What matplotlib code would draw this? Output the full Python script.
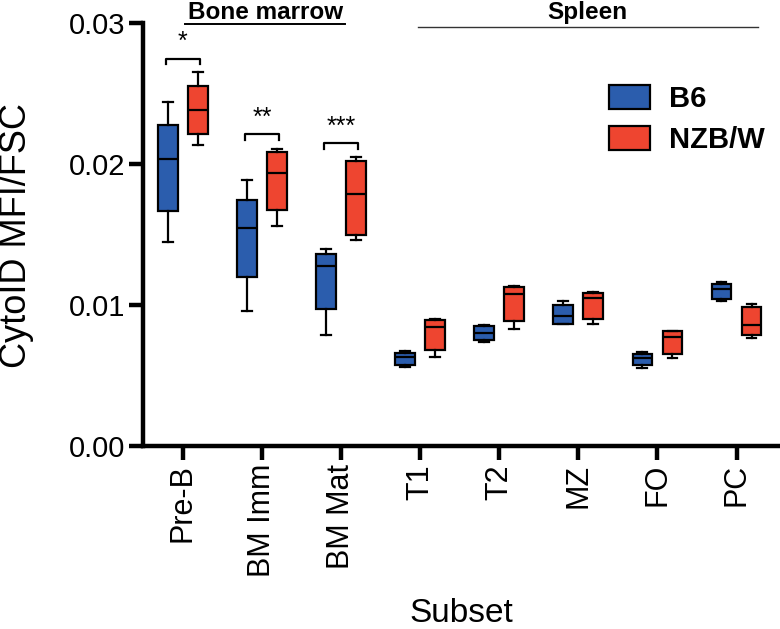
import matplotlib
matplotlib.use('Agg')
import matplotlib.pyplot as plt
from matplotlib.patches import Patch

plt.rcParams['font.family'] = ['Liberation Sans', 'DejaVu Sans']

subsets = ['Pre-B', 'BM Imm', 'BM Mat', 'T1', 'T2', 'MZ', 'FO', 'PC']

# B6 box stats
b6_whislo = [0.01446, 0.0096, 0.0079, 0.00561, 0.00736, 0.00863, 0.00554, 0.01026]
b6_q1 = [0.01665, 0.01198, 0.0097, 0.00578, 0.00755, 0.00865, 0.00578, 0.0104]
b6_med = [0.02033, 0.01543, 0.01274, 0.00632, 0.00803, 0.00922, 0.00625, 0.01111]
b6_q3 = [0.02279, 0.01748, 0.01359, 0.0066, 0.00852, 0.01003, 0.00656, 0.01151]
b6_whishi = [0.02437, 0.01883, 0.01399, 0.00675, 0.0086, 0.01031, 0.00667, 0.01163]

# NZB/W box stats
nzb_whislo = [0.02135, 0.01559, 0.01458, 0.0063, 0.0083, 0.00868, 0.00621, 0.00767]
nzb_q1 = [0.02213, 0.01675, 0.01493, 0.00679, 0.00883, 0.00902, 0.00649, 0.00786]
nzb_med = [0.02385, 0.01939, 0.01788, 0.00844, 0.0108, 0.01047, 0.00774, 0.0086]
nzb_q3 = [0.02555, 0.02088, 0.02024, 0.00892, 0.01127, 0.01088, 0.00814, 0.00986]
nzb_whishi = [0.02656, 0.02107, 0.02052, 0.00903, 0.01132, 0.01092, 0.00816, 0.01005]

# significance brackets (first three subsets)
sig_labels = ['*', '**', '***']
sig_y = [0.02748, 0.02213, 0.02147]

BLUE = '#2b5dad'
RED = '#ee4530'


def box_stats(lo, q1, med, q3, hi):
    return [dict(whislo=a, q1=b, med=c, q3=d, whishi=e, fliers=[])
            for a, b, c, d, e in zip(lo, q1, med, q3, hi)]


def draw_group(ax, stats, positions, color):
    ax.bxp(stats, positions=positions, widths=0.25, capwidths=0.125,
           patch_artist=True, showfliers=False,
           boxprops=dict(facecolor=color, edgecolor='black', linewidth=1.6),
           medianprops=dict(color='black', linewidth=1.6),
           whiskerprops=dict(color='black', linewidth=1.6),
           capprops=dict(color='black', linewidth=1.6))


fig = plt.figure(figsize=(7.8, 6.29), dpi=100)
ax = fig.add_axes([143 / 780, 1 - 446 / 629, 637 / 780, 423 / 629])

idx = list(range(len(subsets)))
off = 0.19
draw_group(ax, box_stats(b6_whislo, b6_q1, b6_med, b6_q3, b6_whishi),
           [i - off for i in idx], BLUE)
draw_group(ax, box_stats(nzb_whislo, nzb_q1, nzb_med, nzb_q3, nzb_whishi),
           [i + off for i in idx], RED)

ax.set_xlim(-0.505, 7.55)
ax.set_ylim(0, 0.03)
ax.set_yticks([0, 0.01, 0.02, 0.03])
ax.set_yticklabels(['0.00', '0.01', '0.02', '0.03'])
ax.set_xticks(idx)
ax.set_xticklabels(subsets, rotation=90)

for s in ['top', 'right']:
    ax.spines[s].set_visible(False)
for s in ['left', 'bottom']:
    ax.spines[s].set_linewidth(3.2)
ax.tick_params(axis='both', length=10, width=3.2, pad=3)
ax.tick_params(axis='x', labelsize=22)
ax.tick_params(axis='y', labelsize=21)

# significance brackets
for i, (lab, y) in enumerate(zip(sig_labels, sig_y)):
    x0, x1 = i - off - 0.03, i + off + 0.03
    ax.plot([x0, x0, x1, x1], [y - 0.0004, y, y, y - 0.0004],
            color='black', linewidth=1.6, clip_on=False)
    ax.text(i, y + 0.0003, lab, ha='center', va='bottom', fontsize=18)

# tissue headers
ax.plot([0.025, 2.05], [0.02993, 0.02993], color='black', linewidth=1.4, clip_on=False)
ax.text(1.04, 0.03078, 'Bone marrow', ha='center', va='center',
        fontsize=17.5, fontweight='bold')
ax.plot([2.97, 7.27], [0.02972, 0.02972], color='#333333', linewidth=1.0, clip_on=False)
ax.text(5.11, 0.03078, 'Spleen', ha='center', va='center',
        fontsize=17.5, fontweight='bold')

handles = [Patch(facecolor=BLUE, edgecolor='black', linewidth=1.6, label='B6'),
           Patch(facecolor=RED, edgecolor='black', linewidth=1.6, label='NZB/W')]
ax.legend(handles=handles, loc='upper left', bbox_to_anchor=(609 / 780, 1 - 85 / 629),
          bbox_transform=fig.transFigure, frameon=False, borderpad=0, borderaxespad=0,
          handlelength=1.4, handleheight=0.85, handletextpad=0.65, labelspacing=0.45,
          prop=dict(size=21, weight='bold'))

fig.text(17 / 780, 1 - 235 / 629, 'CytoID MFI/FSC', rotation=90,
         ha='center', va='center', fontsize=26)
fig.text(461 / 780, 1 - 614 / 629, 'Subset', ha='center', va='center', fontsize=24)

fig.savefig('out.png', dpi=100)
